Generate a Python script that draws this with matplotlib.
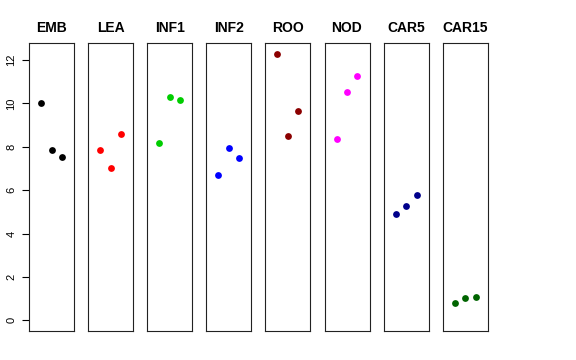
import matplotlib
matplotlib.use("Agg")
import matplotlib.pyplot as plt
import numpy as np

# tissue groups, one panel each
groups = ["EMB", "LEA", "INF1", "INF2", "ROO", "NOD", "CAR5", "CAR15"]
colors = ["black", "red", "#00CD00", "blue", "#8B0000", "magenta", "#00008B", "#006400"]

# three replicate values per group (x = 1, 2, 3)
emb = [10.00, 7.86, 7.51]
lea = [7.86, 7.00, 8.57]
inf1 = [8.18, 10.27, 10.14]
inf2 = [6.72, 7.95, 7.49]
roo = [12.29, 8.51, 9.65]
nod = [8.38, 10.51, 11.26]
car5 = [4.91, 5.28, 5.77]
car15 = [0.82, 1.02, 1.09]
values = [emb, lea, inf1, inf2, roo, nod, car5, car15]

yticks = [0, 2, 4, 6, 8, 10, 12]

plt.rcParams["font.family"] = ["Liberation Sans", "DejaVu Sans"]

W, H = 576, 360
fig = plt.figure(figsize=(W / 100, H / 100), dpi=100)

ymax = max(max(v) for v in values)
ylo, yhi = 0, ymax
pad = 0.04 * (yhi - ylo)

for i, (name, col, vals) in enumerate(zip(groups, colors, values)):
    left = 29 + i * 59.1
    ax = fig.add_axes([left / W, 1 - 331 / H, 45 / W, 288 / H])
    x = np.arange(1, len(vals) + 1)
    ax.scatter(x, vals, s=24, color=col, zorder=3, linewidths=0)
    ax.set_xlim(-0.16, 4.16)
    ax.set_ylim(ylo - pad, yhi + pad)
    ax.set_xticks([])
    for sp in ax.spines.values():
        sp.set_linewidth(0.8)
        sp.set_color("#222222")
    ax.set_title(name, fontsize=10, fontweight="bold", pad=8)
    if i == 0:
        ax.set_yticks(yticks)
        ax.set_yticklabels([str(t) for t in yticks], rotation=90, va="center", fontsize=8)
        ax.tick_params(axis="y", length=5, width=0.8, pad=4)
    else:
        ax.set_yticks([])

fig.savefig("out.png", dpi=100)
